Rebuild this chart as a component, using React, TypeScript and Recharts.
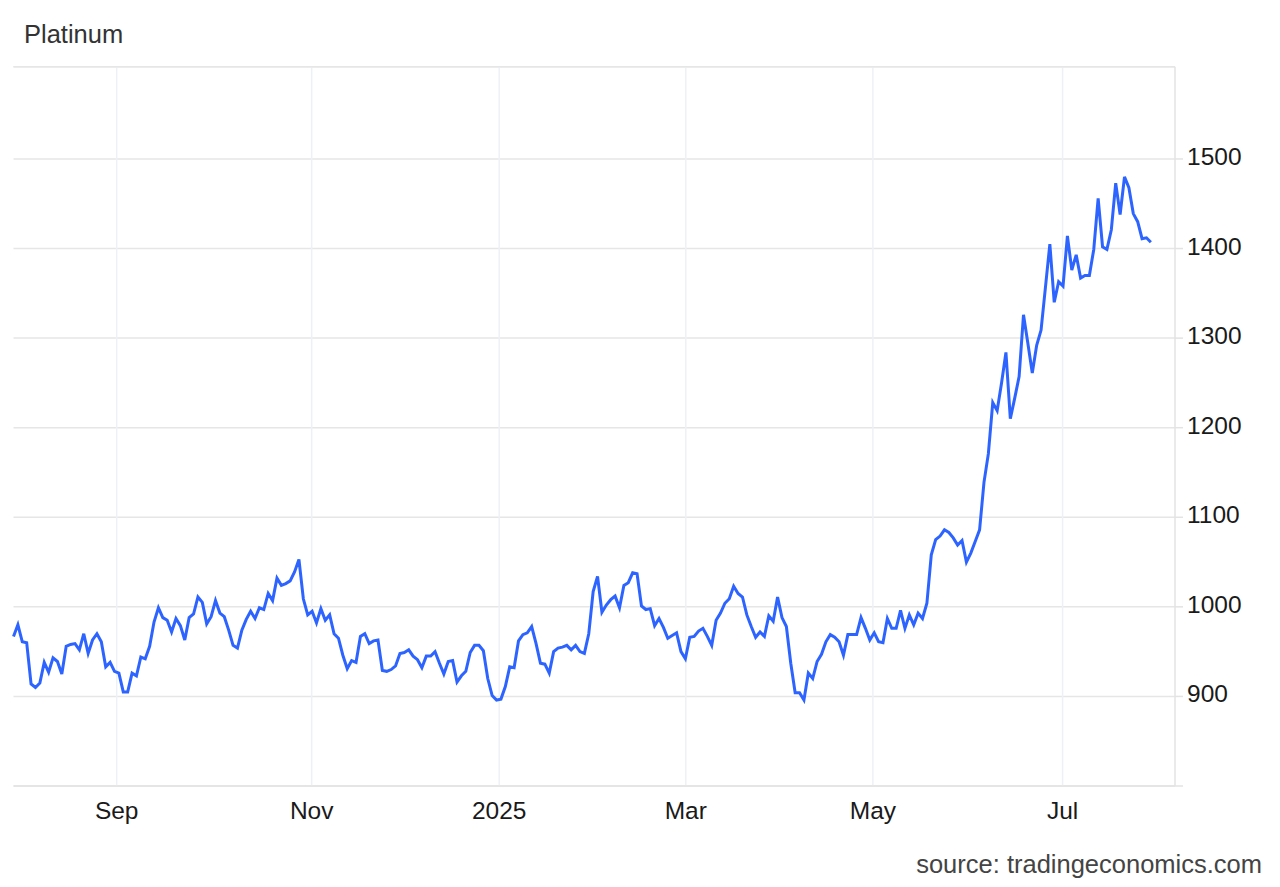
import { LineChart, Line, XAxis, YAxis, CartesianGrid, ReferenceLine } from 'recharts';

// daily closes, Jul 30 2024 .. Jul 30 2025 (trading days)
const PRICES: number[] = [
  967, 980, 961, 960, 914, 910, 915, 938, 927, 943, 939, 925, 956, 958, 959, 952, 970, 948, 963, 970,
  961, 933, 938, 928, 926, 905, 905, 926, 923, 944, 942, 956, 983, 999, 988, 985, 972, 987, 979, 963,
  988, 992, 1011, 1005, 981, 989,
  1007, 993, 989, 974, 957, 954, 974, 986, 995, 987, 999, 997, 1015, 1007, 1032, 1024, 1026, 1029, 1039, 1053,
  1009, 991, 995, 982, 998, 985, 991, 970, 965, 946, 931, 940, 938, 967, 970, 959, 962, 963, 929, 928,
  930, 934, 948, 949, 952,
  945, 941, 932, 945, 945, 950, 937, 925, 939, 940, 916, 923, 928, 949, 957, 957, 951, 920, 901, 896,
  897, 911, 933, 932, 962, 969, 971, 978, 959, 937, 936, 926, 950, 954, 955, 957, 952, 957, 950, 948,
  970, 1017, 1034, 994,
  1002, 1008, 1012, 999, 1024, 1027, 1038, 1037, 1001, 997, 998, 979, 987, 977, 965, 968, 971, 950, 942, 966,
  967, 973, 976, 967, 957, 985, 993, 1004, 1009, 1023, 1015, 1011, 991, 978, 966, 972, 967, 990, 984, 1011,
  988, 978, 937, 904, 904, 896, 926,
  920, 939, 947, 961, 969, 966, 961, 946, 969, 969, 969, 988, 976, 963, 971, 961, 960, 987, 976, 976,
  996, 976, 991, 980, 993, 987, 1004, 1058, 1075, 1079, 1086, 1083, 1077, 1069, 1074, 1050, 1060, 1073, 1086, 1139,
  1171, 1228, 1219, 1250, 1284, 1210,
  1233, 1257, 1326, 1294, 1261, 1292, 1309, 1357, 1405, 1340, 1363, 1358, 1414, 1376, 1393, 1367, 1370, 1370, 1399, 1456,
  1402, 1399, 1421, 1473, 1438, 1480, 1468, 1439, 1430, 1411, 1412, 1407,
];

// month boundaries, as positions on the trading-day index
const MONTH_TICKS = [23.5, 67.9, 110.6, 153.1, 195.7, 238.9];
const MONTH_LABELS = ['Sep', 'Nov', '2025', 'Mar', 'May', 'Jul'];

const Y_TICKS = [800, 900, 1000, 1100, 1200, 1300, 1400, 1500];
const Y_MIN = 800;
const Y_MAX = 1603;
const X_MAX = 264.5;

const FONT = '"Liberation Sans", Arial, Helvetica, sans-serif';

const data = PRICES.map((v, i) => ({ i, v }));

// right-hand price labels sit a little above their gridline
function PriceTick(props: { x?: number; y?: number; payload?: { value: number } }) {
  const { x, y, payload } = props;
  if (x === undefined || y === undefined || !payload || payload.value === Y_MIN) return null;
  return (
    <text x={x} y={y} dy={6} textAnchor="start" fontSize={24.5} fill="#1a1a1a" fontFamily={FONT}>
      {payload.value}
    </text>
  );
}

export default function App() {
  const labelFor = (t: number) => {
    const k = MONTH_TICKS.indexOf(t);
    return k >= 0 ? MONTH_LABELS[k] : '';
  };

  return (
    <div style={{ position: 'absolute', left: 0, top: 0, width: 1280, height: 887, background: '#fff', fontFamily: FONT }}>
      <div style={{ position: 'absolute', left: 24, top: 22, fontSize: 25.5, lineHeight: '25.5px', color: '#333' }}>
        Platinum
      </div>
      <LineChart
        width={1280}
        height={887}
        data={data}
        margin={{ top: 66.7, right: 0, bottom: 61, left: 13.5 }}
        style={{ fontFamily: FONT }}
      >
        <CartesianGrid horizontal={true} vertical={false} stroke="#e6e6e6" strokeWidth={1.5} />
        {MONTH_TICKS.map((t) => (
          <ReferenceLine key={t} x={t} stroke="#edf1f6" strokeWidth={1.5} />
        ))}
        <ReferenceLine y={Y_MAX} stroke="#e6e6e6" strokeWidth={1.5} />
        <XAxis
          dataKey="i"
          type="number"
          domain={[0, X_MAX]}
          ticks={MONTH_TICKS}
          interval={0}
          tickFormatter={labelFor}
          height={40}
          axisLine={{ stroke: '#e3e3e3', strokeWidth: 1.5 }}
          tickLine={false}
          tickMargin={10}
          tick={{ fontSize: 24.5, fill: '#1a1a1a', fontFamily: FONT }}
        />
        <YAxis
          orientation="right"
          type="number"
          domain={[Y_MIN, Y_MAX]}
          ticks={Y_TICKS}
          interval={0}
          width={105}
          axisLine={{ stroke: '#e3e3e3', strokeWidth: 1.5 }}
          tickLine={{ stroke: '#e3e3e3', strokeWidth: 1.5 }}
          tickSize={8}
          tickMargin={4}
          tick={<PriceTick />}
        />
        <Line
          type="linear"
          dataKey="v"
          stroke="#2d64ff"
          strokeWidth={3}
          dot={false}
          isAnimationActive={false}
        />
      </LineChart>
      <div style={{ position: 'absolute', right: 18, top: 852, fontSize: 25.5, lineHeight: '25.5px', color: '#444' }}>
        source: tradingeconomics.com
      </div>
    </div>
  );
}
